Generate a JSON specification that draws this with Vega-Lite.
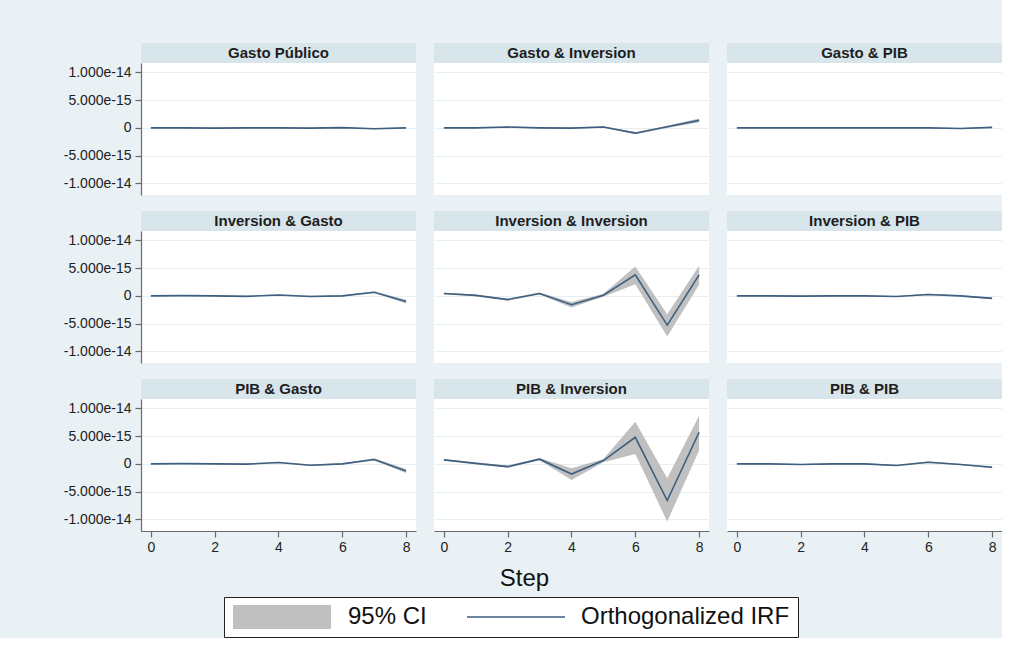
{
  "$schema": "https://vega.github.io/schema/vega-lite/v6.json",
  "background": "#e9f1f4",
  "padding": {"left": 56, "top": 43, "right": 0, "bottom": 0},
  "data": {"values": [
    {"panel":1,"step":0,"irf":0,"lo":-0.08e-15,"hi":0.08e-15},
    {"panel":1,"step":1,"irf":0,"lo":-0.08e-15,"hi":0.08e-15},
    {"panel":1,"step":2,"irf":-0.05e-15,"lo":-0.13e-15,"hi":0.03e-15},
    {"panel":1,"step":3,"irf":0,"lo":-0.08e-15,"hi":0.08e-15},
    {"panel":1,"step":4,"irf":0,"lo":-0.08e-15,"hi":0.08e-15},
    {"panel":1,"step":5,"irf":-0.05e-15,"lo":-0.13e-15,"hi":0.03e-15},
    {"panel":1,"step":6,"irf":0.05e-15,"lo":-0.03e-15,"hi":0.13e-15},
    {"panel":1,"step":7,"irf":-0.15e-15,"lo":-0.23e-15,"hi":-0.07e-15},
    {"panel":1,"step":8,"irf":0,"lo":-0.08e-15,"hi":0.08e-15},
    {"panel":2,"step":0,"irf":0,"lo":-0.08e-15,"hi":0.08e-15},
    {"panel":2,"step":1,"irf":0,"lo":-0.08e-15,"hi":0.08e-15},
    {"panel":2,"step":2,"irf":0.15e-15,"lo":0.05e-15,"hi":0.25e-15},
    {"panel":2,"step":3,"irf":0,"lo":-0.1e-15,"hi":0.1e-15},
    {"panel":2,"step":4,"irf":-0.05e-15,"lo":-0.15e-15,"hi":0.05e-15},
    {"panel":2,"step":5,"irf":0.15e-15,"lo":0.02e-15,"hi":0.28e-15},
    {"panel":2,"step":6,"irf":-0.95e-15,"lo":-1.15e-15,"hi":-0.75e-15},
    {"panel":2,"step":7,"irf":0.2e-15,"lo":0.0,"hi":0.4e-15},
    {"panel":2,"step":8,"irf":1.35e-15,"lo":1.0e-15,"hi":1.7e-15},
    {"panel":3,"step":0,"irf":0,"lo":-0.06e-15,"hi":0.06e-15},
    {"panel":3,"step":1,"irf":0,"lo":-0.06e-15,"hi":0.06e-15},
    {"panel":3,"step":2,"irf":0,"lo":-0.06e-15,"hi":0.06e-15},
    {"panel":3,"step":3,"irf":0,"lo":-0.06e-15,"hi":0.06e-15},
    {"panel":3,"step":4,"irf":0,"lo":-0.06e-15,"hi":0.06e-15},
    {"panel":3,"step":5,"irf":0,"lo":-0.06e-15,"hi":0.06e-15},
    {"panel":3,"step":6,"irf":0,"lo":-0.06e-15,"hi":0.06e-15},
    {"panel":3,"step":7,"irf":-0.12e-15,"lo":-0.2e-15,"hi":-0.04e-15},
    {"panel":3,"step":8,"irf":0.1e-15,"lo":0.0,"hi":0.2e-15},
    {"panel":4,"step":0,"irf":0,"lo":-0.08e-15,"hi":0.08e-15},
    {"panel":4,"step":1,"irf":0.05e-15,"lo":-0.03e-15,"hi":0.13e-15},
    {"panel":4,"step":2,"irf":0,"lo":-0.08e-15,"hi":0.08e-15},
    {"panel":4,"step":3,"irf":-0.08e-15,"lo":-0.18e-15,"hi":0.02e-15},
    {"panel":4,"step":4,"irf":0.15e-15,"lo":0.05e-15,"hi":0.25e-15},
    {"panel":4,"step":5,"irf":-0.1e-15,"lo":-0.22e-15,"hi":0.02e-15},
    {"panel":4,"step":6,"irf":0,"lo":-0.12e-15,"hi":0.12e-15},
    {"panel":4,"step":7,"irf":0.65e-15,"lo":0.5e-15,"hi":0.8e-15},
    {"panel":4,"step":8,"irf":-1.0e-15,"lo":-1.35e-15,"hi":-0.7e-15},
    {"panel":5,"step":0,"irf":0.42e-15,"lo":0.3e-15,"hi":0.55e-15},
    {"panel":5,"step":1,"irf":0.1e-15,"lo":-0.05e-15,"hi":0.25e-15},
    {"panel":5,"step":2,"irf":-0.67e-15,"lo":-0.85e-15,"hi":-0.5e-15},
    {"panel":5,"step":3,"irf":0.42e-15,"lo":0.25e-15,"hi":0.6e-15},
    {"panel":5,"step":4,"irf":-1.58e-15,"lo":-2.1e-15,"hi":-1.1e-15},
    {"panel":5,"step":5,"irf":0.12e-15,"lo":-0.15e-15,"hi":0.4e-15},
    {"panel":5,"step":6,"irf":3.8e-15,"lo":2.1e-15,"hi":5.3e-15},
    {"panel":5,"step":7,"irf":-5.27e-15,"lo":-7.3e-15,"hi":-3.3e-15},
    {"panel":5,"step":8,"irf":3.8e-15,"lo":2.0e-15,"hi":5.45e-15},
    {"panel":6,"step":0,"irf":0,"lo":-0.08e-15,"hi":0.08e-15},
    {"panel":6,"step":1,"irf":0,"lo":-0.08e-15,"hi":0.08e-15},
    {"panel":6,"step":2,"irf":-0.05e-15,"lo":-0.13e-15,"hi":0.03e-15},
    {"panel":6,"step":3,"irf":0,"lo":-0.08e-15,"hi":0.08e-15},
    {"panel":6,"step":4,"irf":0,"lo":-0.08e-15,"hi":0.08e-15},
    {"panel":6,"step":5,"irf":-0.12e-15,"lo":-0.22e-15,"hi":-0.02e-15},
    {"panel":6,"step":6,"irf":0.25e-15,"lo":0.13e-15,"hi":0.37e-15},
    {"panel":6,"step":7,"irf":0,"lo":-0.1e-15,"hi":0.1e-15},
    {"panel":6,"step":8,"irf":-0.45e-15,"lo":-0.6e-15,"hi":-0.3e-15},
    {"panel":7,"step":0,"irf":0,"lo":-0.08e-15,"hi":0.08e-15},
    {"panel":7,"step":1,"irf":0.05e-15,"lo":-0.03e-15,"hi":0.13e-15},
    {"panel":7,"step":2,"irf":0,"lo":-0.08e-15,"hi":0.08e-15},
    {"panel":7,"step":3,"irf":-0.05e-15,"lo":-0.13e-15,"hi":0.03e-15},
    {"panel":7,"step":4,"irf":0.25e-15,"lo":0.15e-15,"hi":0.35e-15},
    {"panel":7,"step":5,"irf":-0.25e-15,"lo":-0.37e-15,"hi":-0.13e-15},
    {"panel":7,"step":6,"irf":0,"lo":-0.12e-15,"hi":0.12e-15},
    {"panel":7,"step":7,"irf":0.8e-15,"lo":0.6e-15,"hi":1.0e-15},
    {"panel":7,"step":8,"irf":-1.27e-15,"lo":-1.65e-15,"hi":-0.9e-15},
    {"panel":8,"step":0,"irf":0.73e-15,"lo":0.6e-15,"hi":0.85e-15},
    {"panel":8,"step":1,"irf":0.1e-15,"lo":-0.05e-15,"hi":0.25e-15},
    {"panel":8,"step":2,"irf":-0.5e-15,"lo":-0.7e-15,"hi":-0.3e-15},
    {"panel":8,"step":3,"irf":0.85e-15,"lo":0.65e-15,"hi":1.05e-15},
    {"panel":8,"step":4,"irf":-1.83e-15,"lo":-2.9e-15,"hi":-0.8e-15},
    {"panel":8,"step":5,"irf":0.6e-15,"lo":0.3e-15,"hi":0.9e-15},
    {"panel":8,"step":6,"irf":4.8e-15,"lo":1.8e-15,"hi":7.6e-15},
    {"panel":8,"step":7,"irf":-6.6e-15,"lo":-10.4e-15,"hi":-2.6e-15},
    {"panel":8,"step":8,"irf":5.7e-15,"lo":2.4e-15,"hi":8.7e-15},
    {"panel":9,"step":0,"irf":0,"lo":-0.1e-15,"hi":0.1e-15},
    {"panel":9,"step":1,"irf":0,"lo":-0.1e-15,"hi":0.1e-15},
    {"panel":9,"step":2,"irf":-0.1e-15,"lo":-0.2e-15,"hi":0.0},
    {"panel":9,"step":3,"irf":0,"lo":-0.1e-15,"hi":0.1e-15},
    {"panel":9,"step":4,"irf":0,"lo":-0.1e-15,"hi":0.1e-15},
    {"panel":9,"step":5,"irf":-0.28e-15,"lo":-0.4e-15,"hi":-0.16e-15},
    {"panel":9,"step":6,"irf":0.3e-15,"lo":0.18e-15,"hi":0.42e-15},
    {"panel":9,"step":7,"irf":-0.1e-15,"lo":-0.22e-15,"hi":0.02e-15},
    {"panel":9,"step":8,"irf":-0.6e-15,"lo":-0.78e-15,"hi":-0.42e-15}
  ]},
  "spacing": 16,
  "resolve": {"scale": {"fill": "shared", "stroke": "shared", "strokeWidth": "shared"}},
  "vconcat": [
    {"spacing": 18, "resolve": {"scale": {"fill": "shared", "stroke": "shared", "strokeWidth": "shared"}}, "hconcat": [
      {"bounds": "flush", "spacing": 0, "vconcat": [
        {"data": {"values": [{"t": "Gasto Público"}]}, "width": 275, "height": 20, "view": {"fill": "#d8e5eb", "stroke": null},
         "mark": {"type": "text", "fontSize": 15, "fontWeight": "bold", "color": "#1e1e1e"}, "encoding": {"text": {"field": "t"}}},
        {"width": 275, "height": 132, "transform": [{"filter": "datum.panel == 1"}],
         "encoding": {"x": {"field": "step", "type": "quantitative", "scale": {"domain": [-0.31, 8.31], "nice": false, "zero": false}, "axis": null}},
         "layer": [
           {"mark": {"type": "area", "opacity": 1}, "encoding": {
             "y": {"field": "lo", "type": "quantitative", "title": null, "scale": {"domain": [-12.1e-15, 11.7e-15], "nice": false, "zero": false},
                   "axis": {"values": [-1e-14, -5e-15, 0, 5e-15, 1e-14], "tickCount": 20, "labelExpr": "datum.value == 0 ? '0' : replace(format(datum.value, '.3e'), '\u2212', '-')", "grid": true, "domain": true, "ticks": true, "labels": true, "minExtent": 85, "maxExtent": 85}},
             "y2": {"field": "hi"},
             "fill": {"datum": "95% CI", "type": "nominal", "scale": {"domain": ["95% CI", "Orthogonalized IRF"], "range": ["#c0c0c0", "#3d5f80"]},
               "legend": {"orient": "none", "legendX": 83, "legendY": 554, "direction": "horizontal", "title": null, "labelFontSize": 24, "labelColor": "#111", "labelFont": "Liberation Sans", "labelLimit": 400, "symbolSize": 4, "symbolType": "M-49,0H49", "symbolOffset": 37, "labelOffset": 53, "columnPadding": 40, "clipHeight": 24, "strokeColor": "#222", "fillColor": "#ffffff", "padding": 8}}}},
           {"mark": {"type": "line"}, "encoding": {"y": {"field": "irf", "type": "quantitative", "title": null},
             "stroke": {"datum": "Orthogonalized IRF", "type": "nominal", "scale": {"domain": ["95% CI", "Orthogonalized IRF"], "range": ["#c0c0c0", "#3d5f80"]}},
             "strokeWidth": {"datum": "Orthogonalized IRF", "type": "nominal", "scale": {"domain": ["95% CI", "Orthogonalized IRF"], "range": [24, 1.6]}}}}
         ]}
      ]},
      {"bounds": "flush", "spacing": 0, "vconcat": [
        {"data": {"values": [{"t": "Gasto & Inversion"}]}, "width": 275, "height": 20, "view": {"fill": "#d8e5eb", "stroke": null},
         "mark": {"type": "text", "fontSize": 15, "fontWeight": "bold", "color": "#1e1e1e"}, "encoding": {"text": {"field": "t"}}},
        {"width": 275, "height": 132, "transform": [{"filter": "datum.panel == 2"}],
         "encoding": {"x": {"field": "step", "type": "quantitative", "scale": {"domain": [-0.31, 8.31], "nice": false, "zero": false}, "axis": null}},
         "layer": [
           {"mark": {"type": "area", "opacity": 1}, "encoding": {
             "y": {"field": "lo", "type": "quantitative", "title": null, "scale": {"domain": [-12.1e-15, 11.7e-15], "nice": false, "zero": false},
                   "axis": {"values": [-1e-14, -5e-15, 0, 5e-15, 1e-14], "tickCount": 20, "grid": true, "domain": false, "ticks": false, "labels": false, "minExtent": 0, "maxExtent": 0}},
             "y2": {"field": "hi"},
             "fill": {"datum": "95% CI", "type": "nominal", "scale": {"domain": ["95% CI", "Orthogonalized IRF"], "range": ["#c0c0c0", "#3d5f80"]}}}},
           {"mark": {"type": "line"}, "encoding": {"y": {"field": "irf", "type": "quantitative", "title": null},
             "stroke": {"datum": "Orthogonalized IRF", "type": "nominal", "scale": {"domain": ["95% CI", "Orthogonalized IRF"], "range": ["#c0c0c0", "#3d5f80"]}},
             "strokeWidth": {"datum": "Orthogonalized IRF", "type": "nominal", "scale": {"domain": ["95% CI", "Orthogonalized IRF"], "range": [24, 1.6]}}}}
         ]}
      ]},
      {"bounds": "flush", "spacing": 0, "vconcat": [
        {"data": {"values": [{"t": "Gasto &  PIB"}]}, "width": 275, "height": 20, "view": {"fill": "#d8e5eb", "stroke": null},
         "mark": {"type": "text", "fontSize": 15, "fontWeight": "bold", "color": "#1e1e1e"}, "encoding": {"text": {"field": "t"}}},
        {"width": 275, "height": 132, "transform": [{"filter": "datum.panel == 3"}],
         "encoding": {"x": {"field": "step", "type": "quantitative", "scale": {"domain": [-0.31, 8.31], "nice": false, "zero": false}, "axis": null}},
         "layer": [
           {"mark": {"type": "area", "opacity": 1}, "encoding": {
             "y": {"field": "lo", "type": "quantitative", "title": null, "scale": {"domain": [-12.1e-15, 11.7e-15], "nice": false, "zero": false},
                   "axis": {"values": [-1e-14, -5e-15, 0, 5e-15, 1e-14], "tickCount": 20, "grid": true, "domain": false, "ticks": false, "labels": false, "minExtent": 0, "maxExtent": 0}},
             "y2": {"field": "hi"},
             "fill": {"datum": "95% CI", "type": "nominal", "scale": {"domain": ["95% CI", "Orthogonalized IRF"], "range": ["#c0c0c0", "#3d5f80"]}}}},
           {"mark": {"type": "line"}, "encoding": {"y": {"field": "irf", "type": "quantitative", "title": null},
             "stroke": {"datum": "Orthogonalized IRF", "type": "nominal", "scale": {"domain": ["95% CI", "Orthogonalized IRF"], "range": ["#c0c0c0", "#3d5f80"]}},
             "strokeWidth": {"datum": "Orthogonalized IRF", "type": "nominal", "scale": {"domain": ["95% CI", "Orthogonalized IRF"], "range": [24, 1.6]}}}}
         ]}
      ]}
    ]},
    {"spacing": 18, "resolve": {"scale": {"fill": "shared", "stroke": "shared", "strokeWidth": "shared"}}, "hconcat": [
      {"bounds": "flush", "spacing": 0, "vconcat": [
        {"data": {"values": [{"t": "Inversion & Gasto"}]}, "width": 275, "height": 20, "view": {"fill": "#d8e5eb", "stroke": null},
         "mark": {"type": "text", "fontSize": 15, "fontWeight": "bold", "color": "#1e1e1e"}, "encoding": {"text": {"field": "t"}}},
        {"width": 275, "height": 132, "transform": [{"filter": "datum.panel == 4"}],
         "encoding": {"x": {"field": "step", "type": "quantitative", "scale": {"domain": [-0.31, 8.31], "nice": false, "zero": false}, "axis": null}},
         "layer": [
           {"mark": {"type": "area", "opacity": 1}, "encoding": {
             "y": {"field": "lo", "type": "quantitative", "title": null, "scale": {"domain": [-12.1e-15, 11.7e-15], "nice": false, "zero": false},
                   "axis": {"values": [-1e-14, -5e-15, 0, 5e-15, 1e-14], "tickCount": 20, "labelExpr": "datum.value == 0 ? '0' : replace(format(datum.value, '.3e'), '\u2212', '-')", "grid": true, "domain": true, "ticks": true, "labels": true, "minExtent": 85, "maxExtent": 85}},
             "y2": {"field": "hi"},
             "fill": {"datum": "95% CI", "type": "nominal", "scale": {"domain": ["95% CI", "Orthogonalized IRF"], "range": ["#c0c0c0", "#3d5f80"]}}}},
           {"mark": {"type": "line"}, "encoding": {"y": {"field": "irf", "type": "quantitative", "title": null},
             "stroke": {"datum": "Orthogonalized IRF", "type": "nominal", "scale": {"domain": ["95% CI", "Orthogonalized IRF"], "range": ["#c0c0c0", "#3d5f80"]}},
             "strokeWidth": {"datum": "Orthogonalized IRF", "type": "nominal", "scale": {"domain": ["95% CI", "Orthogonalized IRF"], "range": [24, 1.6]}}}}
         ]}
      ]},
      {"bounds": "flush", "spacing": 0, "vconcat": [
        {"data": {"values": [{"t": "Inversion & Inversion"}]}, "width": 275, "height": 20, "view": {"fill": "#d8e5eb", "stroke": null},
         "mark": {"type": "text", "fontSize": 15, "fontWeight": "bold", "color": "#1e1e1e"}, "encoding": {"text": {"field": "t"}}},
        {"width": 275, "height": 132, "transform": [{"filter": "datum.panel == 5"}],
         "encoding": {"x": {"field": "step", "type": "quantitative", "scale": {"domain": [-0.31, 8.31], "nice": false, "zero": false}, "axis": null}},
         "layer": [
           {"mark": {"type": "area", "opacity": 1}, "encoding": {
             "y": {"field": "lo", "type": "quantitative", "title": null, "scale": {"domain": [-12.1e-15, 11.7e-15], "nice": false, "zero": false},
                   "axis": {"values": [-1e-14, -5e-15, 0, 5e-15, 1e-14], "tickCount": 20, "grid": true, "domain": false, "ticks": false, "labels": false, "minExtent": 0, "maxExtent": 0}},
             "y2": {"field": "hi"},
             "fill": {"datum": "95% CI", "type": "nominal", "scale": {"domain": ["95% CI", "Orthogonalized IRF"], "range": ["#c0c0c0", "#3d5f80"]}}}},
           {"mark": {"type": "line"}, "encoding": {"y": {"field": "irf", "type": "quantitative", "title": null},
             "stroke": {"datum": "Orthogonalized IRF", "type": "nominal", "scale": {"domain": ["95% CI", "Orthogonalized IRF"], "range": ["#c0c0c0", "#3d5f80"]}},
             "strokeWidth": {"datum": "Orthogonalized IRF", "type": "nominal", "scale": {"domain": ["95% CI", "Orthogonalized IRF"], "range": [24, 1.6]}}}}
         ]}
      ]},
      {"bounds": "flush", "spacing": 0, "vconcat": [
        {"data": {"values": [{"t": "Inversion & PIB"}]}, "width": 275, "height": 20, "view": {"fill": "#d8e5eb", "stroke": null},
         "mark": {"type": "text", "fontSize": 15, "fontWeight": "bold", "color": "#1e1e1e"}, "encoding": {"text": {"field": "t"}}},
        {"width": 275, "height": 132, "transform": [{"filter": "datum.panel == 6"}],
         "encoding": {"x": {"field": "step", "type": "quantitative", "scale": {"domain": [-0.31, 8.31], "nice": false, "zero": false}, "axis": null}},
         "layer": [
           {"mark": {"type": "area", "opacity": 1}, "encoding": {
             "y": {"field": "lo", "type": "quantitative", "title": null, "scale": {"domain": [-12.1e-15, 11.7e-15], "nice": false, "zero": false},
                   "axis": {"values": [-1e-14, -5e-15, 0, 5e-15, 1e-14], "tickCount": 20, "grid": true, "domain": false, "ticks": false, "labels": false, "minExtent": 0, "maxExtent": 0}},
             "y2": {"field": "hi"},
             "fill": {"datum": "95% CI", "type": "nominal", "scale": {"domain": ["95% CI", "Orthogonalized IRF"], "range": ["#c0c0c0", "#3d5f80"]}}}},
           {"mark": {"type": "line"}, "encoding": {"y": {"field": "irf", "type": "quantitative", "title": null},
             "stroke": {"datum": "Orthogonalized IRF", "type": "nominal", "scale": {"domain": ["95% CI", "Orthogonalized IRF"], "range": ["#c0c0c0", "#3d5f80"]}},
             "strokeWidth": {"datum": "Orthogonalized IRF", "type": "nominal", "scale": {"domain": ["95% CI", "Orthogonalized IRF"], "range": [24, 1.6]}}}}
         ]}
      ]}
    ]},
    {"spacing": 18, "resolve": {"scale": {"fill": "shared", "stroke": "shared", "strokeWidth": "shared"}}, "hconcat": [
      {"bounds": "flush", "spacing": 0, "vconcat": [
        {"data": {"values": [{"t": "PIB & Gasto"}]}, "width": 275, "height": 20, "view": {"fill": "#d8e5eb", "stroke": null},
         "mark": {"type": "text", "fontSize": 15, "fontWeight": "bold", "color": "#1e1e1e"}, "encoding": {"text": {"field": "t"}}},
        {"width": 275, "height": 132, "transform": [{"filter": "datum.panel == 7"}],
         "encoding": {"x": {"field": "step", "type": "quantitative", "scale": {"domain": [-0.31, 8.31], "nice": false, "zero": false}, "axis": {"values": [0, 2, 4, 6, 8], "grid": false, "title": null}}},
         "layer": [
           {"mark": {"type": "area", "opacity": 1}, "encoding": {
             "y": {"field": "lo", "type": "quantitative", "title": null, "scale": {"domain": [-12.1e-15, 11.7e-15], "nice": false, "zero": false},
                   "axis": {"values": [-1e-14, -5e-15, 0, 5e-15, 1e-14], "tickCount": 20, "labelExpr": "datum.value == 0 ? '0' : replace(format(datum.value, '.3e'), '\u2212', '-')", "grid": true, "domain": true, "ticks": true, "labels": true, "minExtent": 85, "maxExtent": 85}},
             "y2": {"field": "hi"},
             "fill": {"datum": "95% CI", "type": "nominal", "scale": {"domain": ["95% CI", "Orthogonalized IRF"], "range": ["#c0c0c0", "#3d5f80"]}}}},
           {"mark": {"type": "line"}, "encoding": {"y": {"field": "irf", "type": "quantitative", "title": null},
             "stroke": {"datum": "Orthogonalized IRF", "type": "nominal", "scale": {"domain": ["95% CI", "Orthogonalized IRF"], "range": ["#c0c0c0", "#3d5f80"]}},
             "strokeWidth": {"datum": "Orthogonalized IRF", "type": "nominal", "scale": {"domain": ["95% CI", "Orthogonalized IRF"], "range": [24, 1.6]}}}}
         ]}
      ]},
      {"bounds": "flush", "spacing": 0, "vconcat": [
        {"data": {"values": [{"t": "PIB & Inversion"}]}, "width": 275, "height": 20, "view": {"fill": "#d8e5eb", "stroke": null},
         "mark": {"type": "text", "fontSize": 15, "fontWeight": "bold", "color": "#1e1e1e"}, "encoding": {"text": {"field": "t"}}},
        {"width": 275, "height": 132, "transform": [{"filter": "datum.panel == 8"}],
         "encoding": {"x": {"field": "step", "type": "quantitative", "scale": {"domain": [-0.31, 8.31], "nice": false, "zero": false}, "axis": {"values": [0, 2, 4, 6, 8], "grid": false, "title": "Step", "titleX": 90, "titleY": 54, "titleBaseline": "alphabetic", "titleFontSize": 24, "titleFontWeight": "normal", "titleColor": "#111"}}},
         "layer": [
           {"mark": {"type": "area", "opacity": 1}, "encoding": {
             "y": {"field": "lo", "type": "quantitative", "title": null, "scale": {"domain": [-12.1e-15, 11.7e-15], "nice": false, "zero": false},
                   "axis": {"values": [-1e-14, -5e-15, 0, 5e-15, 1e-14], "tickCount": 20, "grid": true, "domain": false, "ticks": false, "labels": false, "minExtent": 0, "maxExtent": 0}},
             "y2": {"field": "hi"},
             "fill": {"datum": "95% CI", "type": "nominal", "scale": {"domain": ["95% CI", "Orthogonalized IRF"], "range": ["#c0c0c0", "#3d5f80"]}}}},
           {"mark": {"type": "line"}, "encoding": {"y": {"field": "irf", "type": "quantitative", "title": null},
             "stroke": {"datum": "Orthogonalized IRF", "type": "nominal", "scale": {"domain": ["95% CI", "Orthogonalized IRF"], "range": ["#c0c0c0", "#3d5f80"]}},
             "strokeWidth": {"datum": "Orthogonalized IRF", "type": "nominal", "scale": {"domain": ["95% CI", "Orthogonalized IRF"], "range": [24, 1.6]}}}}
         ]}
      ]},
      {"bounds": "flush", "spacing": 0, "vconcat": [
        {"data": {"values": [{"t": "PIB & PIB"}]}, "width": 275, "height": 20, "view": {"fill": "#d8e5eb", "stroke": null},
         "mark": {"type": "text", "fontSize": 15, "fontWeight": "bold", "color": "#1e1e1e"}, "encoding": {"text": {"field": "t"}}},
        {"width": 275, "height": 132, "transform": [{"filter": "datum.panel == 9"}],
         "encoding": {"x": {"field": "step", "type": "quantitative", "scale": {"domain": [-0.31, 8.31], "nice": false, "zero": false}, "axis": {"values": [0, 2, 4, 6, 8], "grid": false, "title": null}}},
         "layer": [
           {"mark": {"type": "area", "opacity": 1}, "encoding": {
             "y": {"field": "lo", "type": "quantitative", "title": null, "scale": {"domain": [-12.1e-15, 11.7e-15], "nice": false, "zero": false},
                   "axis": {"values": [-1e-14, -5e-15, 0, 5e-15, 1e-14], "tickCount": 20, "grid": true, "domain": false, "ticks": false, "labels": false, "minExtent": 0, "maxExtent": 0}},
             "y2": {"field": "hi"},
             "fill": {"datum": "95% CI", "type": "nominal", "scale": {"domain": ["95% CI", "Orthogonalized IRF"], "range": ["#c0c0c0", "#3d5f80"]}}}},
           {"mark": {"type": "line"}, "encoding": {"y": {"field": "irf", "type": "quantitative", "title": null},
             "stroke": {"datum": "Orthogonalized IRF", "type": "nominal", "scale": {"domain": ["95% CI", "Orthogonalized IRF"], "range": ["#c0c0c0", "#3d5f80"]}},
             "strokeWidth": {"datum": "Orthogonalized IRF", "type": "nominal", "scale": {"domain": ["95% CI", "Orthogonalized IRF"], "range": [24, 1.6]}}}}
         ]}
      ]}
    ]}
  ],
  "config": {
    "font": "Liberation Sans",
    "view": {"stroke": null, "fill": "#ffffff"},
    "axis": {"gridColor": "#e6eff2", "gridWidth": 1, "domainColor": "#6a6a6a", "domainWidth": 1.2, "tickColor": "#6a6a6a", "tickSize": 6, "tickWidth": 1.2, "labelFontSize": 14, "labelColor": "#222222", "labelPadding": 4, "labelFlush": false, "labelOverlap": false},
    "axisX": {"labelPadding": 3}
  }
}
